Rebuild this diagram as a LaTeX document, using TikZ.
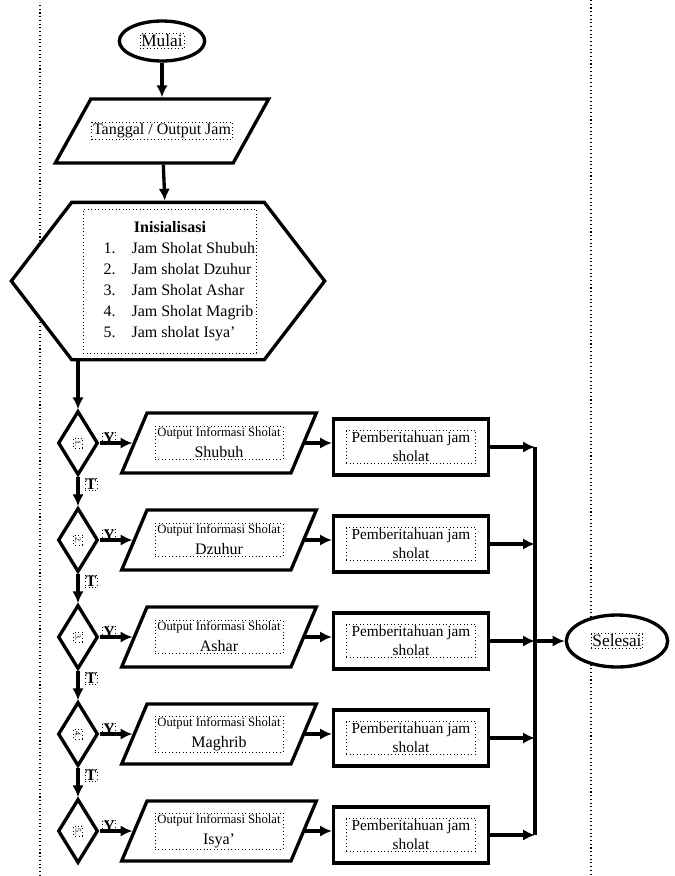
\documentclass[tikz,border=0pt]{standalone}
\usepackage{fontspec}
\setmainfont{Liberation Serif}
\usetikzlibrary{arrows.meta,positioning}
\usetikzlibrary{shapes.geometric,shapes.symbols}
\tikzset{
        shape_base/.style={draw=black, line width=2.5pt, fill=white, inner sep=2pt},
        % Start / end nodes
        node_terminal/.style={shape_base, ellipse, minimum width=64pt, minimum height=30pt},
        % Input / output nodes
        node_io/.style={shape_base, trapezium, trapezium left angle=80, trapezium right angle=100, trapezium stretches=true, minimum width=146pt, minimum height=45pt},
        % Preparation node
        node_prep/.style={shape_base, signal, signal to=east and west, signal pointer angle=105, minimum width=235pt, minimum height=118pt},
        % Decision nodes
        node_decision/.style={shape_base, diamond, minimum width=30pt, minimum height=48pt},
        % Process nodes
        node_process/.style={shape_base, rectangle, minimum width=116pt, minimum height=42pt},
        % Text boxes
        text_box/.style={draw=black, dotted, line width=0.6pt, inner sep=1pt, align=center, font=\fontsize{12}{15.75}\selectfont},
        text_label/.style={text_box, inner sep=0.5pt, font=\fontsize{12}{12}\selectfont\bfseries},
        text_no/.style={text_box, rotate=-90, inner sep=1.5pt, font=\fontsize{6}{6}\selectfont}
}
\begin{document}
\begin{tikzpicture}[
            x=0.75pt, y=-0.75pt,
            ->, >={Latex[length=9pt,width=8.5pt]}, line width=2.5pt
        ]
            \useasboundingbox (0,0) rectangle (675,876);
            \draw[-, dotted, line width=0.8pt] (40,5) -- (40,876);
            \draw[-, dotted, line width=0.8pt] (591,0) -- (591,876);

            \node[node_terminal] (mulai) at (162,41) {};
            \node[text_box, font=\fontsize{13}{15}\selectfont] at (mulai) {Mulai};
            \node[node_io, trapezium left angle=76, trapezium right angle=104, minimum width=160pt, minimum height=48pt] (tanggal) at (162,131) {};
            \node[text_box] at (tanggal) {Tanggal / Output Jam};
            \node[node_prep] (init) at (168,281) {};
            \node[text_box, minimum width=130pt, minimum height=108pt] at (170,281) {%
                \begin{tabular}{@{\hspace{14pt}}r@{\hspace{12pt}}l@{}}
                    \multicolumn{2}{c}{\textbf{Inisialisasi}}\\
                    1. & Jam Sholat Shubuh\\
                    2. & Jam sholat Dzuhur\\
                    3. & Jam Sholat Ashar\\
                    4. & Jam Sholat Magrib\\
                    5. & Jam sholat Isya'
                \end{tabular}};
            \node[node_terminal, minimum width=76pt, minimum height=39pt] (selesai) at (617,641) {};
            \node[text_box, font=\fontsize{13}{15}\selectfont] at (selesai) {Selesai};
            \coordinate (join) at (535,641);

            \foreach \i/\y/\nama in {1/443/Shubuh, 2/540/Dzuhur, 3/637/Ashar, 4/734/Maghrib, 5/831/Isya'} {
                \node[node_decision] (d\i) at (78,\y) {};
                \node[text_no] at (d\i) {\i.};
                \node[node_io] (p\i) at (219,\y) {};
                \node[text_box, minimum width=96pt] at (p\i) {{\fontsize{9.5}{11}\selectfont Output Informasi Sholat}\\ {\fontsize{12}{14}\selectfont \nama}};
                \node[node_process] (r\i) at (411,\y+4) {};
                \node[text_box, minimum width=97pt, font=\fontsize{11.5}{14.5}\selectfont] at (r\i) {Pemberitahuan jam\\ sholat};
                \draw (d\i.east) -- (d\i.east -| p\i.west);
                \node[text_label, anchor=south west] at ([xshift=2pt,yshift=-1pt]d\i.east) {Y};
                \draw (p\i.east) -- (p\i.east -| r\i.west);
                \draw (r\i.east) -- (r\i.east -| join);
            }
            \foreach \i/\j in {1/2, 2/3, 3/4, 4/5} {
                \draw (d\i) -- (d\j);
                \node[text_label, anchor=north west] at ([xshift=5pt,yshift=-1pt]d\i.south) {T};
            }

            \draw (init.south -| d1) -- (d1);
            \draw (mulai) -- (tanggal);
            \draw (tanggal) -- (init);
            \draw[-] (join |- r1.east) -- (join |- r5.east);
            \draw (join) -- (selesai);
        \end{tikzpicture}
\end{document}
